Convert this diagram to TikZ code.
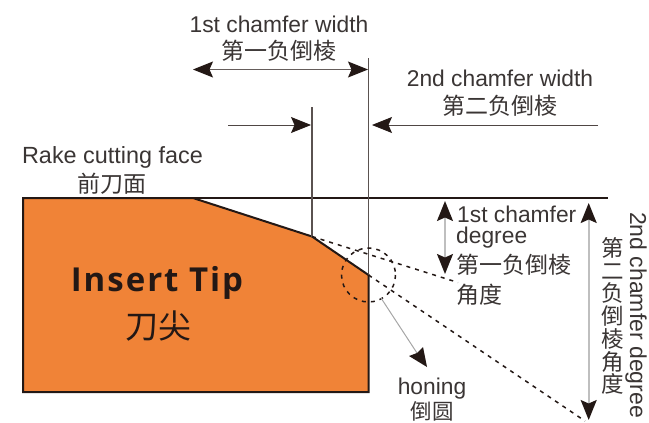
\documentclass[tikz,border=0pt]{standalone}
\usepackage{fontspec}
\setmainfont{Liberation Sans}
\newfontfamily\cjkfont{Noto Sans CJK SC}
\newfontfamily\titlefont[LetterSpace=6]{Open Sans}
\usetikzlibrary{arrows.meta}
\definecolor{inkc}{HTML}{231815}
\definecolor{txtc}{HTML}{3A3534}
\definecolor{orangefill}{HTML}{F08337}
\tikzset{
  lbl/.style={text=txtc,inner sep=0pt,font=\fontsize{22.8}{23}\selectfont},
  cjk/.style={text=txtc,inner sep=0pt,font=\cjkfont\fontsize{23}{23}\selectfont},
  dim/.style={draw=inkc!80,line width=0.9pt,-{Stealth[length=20pt,width=16pt,inset=3.5pt,inkc]}},
  dimboth/.style={draw=inkc!70,line width=1pt,{Stealth[length=20pt,width=16pt,inset=3.5pt,inkc]}-{Stealth[length=20pt,width=16pt,inset=3.5pt,inkc]}},
  greyboth/.style={draw=black!25,line width=1.6pt,{Stealth[length=20pt,width=16pt,inset=3.5pt,inkc]}-{Stealth[length=20pt,width=16pt,inset=3.5pt,inkc]}},
  guide/.style={draw=inkc!75,line width=1.4pt},
  dots/.style={draw=inkc,line width=1.5pt,dash pattern=on 4pt off 5pt},
}
\begin{document}
\begin{tikzpicture}[x=1pt,y=-1pt]
\useasboundingbox (0,0) rectangle (649,423);
\coordinate (tl) at (23,198);
\coordinate (tm) at (193,198);
\coordinate (c1) at (312,236.5);
\coordinate (c2) at (368.5,275);
\coordinate (br) at (368.5,392);
\coordinate (bl) at (23,392);
\coordinate (faceEnd) at (608,198);
\coordinate (v1top) at (312,107);
\coordinate (v2top) at (368.5,58);
\coordinate (w1a) at (193,69.5);
\coordinate (w1b) at (368,69.5);
\coordinate (s1a) at (228,125);
\coordinate (s1b) at (311,125);
\coordinate (s2a) at (598,125);
\coordinate (s2b) at (372,125);
\coordinate (d1end) at (458,282.5);
\coordinate (d2end) at (585,421);
\coordinate (hona) at (381,298);
\coordinate (honn) at (417,353);
\coordinate (honb) at (427,367);
\coordinate (a1a) at (445,201);
\coordinate (a1b) at (445,274);
\coordinate (a2a) at (588.7,203);
\coordinate (a2b) at (588.7,420);

\draw[fill=orangefill,draw=inkc,line width=2pt,line join=miter]
  (tl) -- (tm) -- (c1) -- (c2) -- (br) -- (bl) -- cycle;
\draw[inkc,line width=1.3pt] (tl) -- (faceEnd);
\draw[guide] (v1top) -- (c1);
\draw[guide] (v2top) -- (c2);
\draw[dimboth] (w1a) -- (w1b);
\draw[dim] (s1a) -- (s1b);
\draw[dim] (s2a) -- (s2b);
\draw[dots] (c1) -- (d1end);
\draw[dots] (c2) -- (d2end);
\draw[dots] (c2) circle[radius=27];
\draw[black!35,line width=1pt] (hona) -- (honn);
\fill[inkc] (honb) -- ++(-18,-11) -- (honn) -- ++(6,-6) -- cycle;
\draw[greyboth] (a1a) -- (a1b);
\draw[greyboth] (a2a) -- (a2b);

\node[lbl] (w1en) at (279,24) {1st chamfer width};
\node[cjk] (w1cn) at (279,51) {第一负倒棱};
\node[lbl] (w2en) at (500,78) {2nd chamfer width};
\node[cjk] (w2cn) at (500,106) {第二负倒棱};
\node[lbl,font=\fontsize{23.4}{23}\selectfont] (rakeen) at (112.5,157) {Rake cutting face};
\node[cjk] (rakecn) at (112,184) {前刀面};
\node[text=inkc,inner sep=0pt,font=\titlefont\bfseries\fontsize{33}{33}\selectfont] (tipen) at (157,283) {Insert Tip};
\node[text=inkc,inner sep=0pt,font=\cjkfont\fontsize{33}{33}\selectfont] (tipcn) at (158,326) {刀尖};
\node[lbl,anchor=west] (d1a) at (457,214) {1st chamfer};
\node[lbl,anchor=west] (d1b) at (456,238) {degree};
\node[cjk,anchor=west] (d1c) at (456,265) {第一负倒棱};
\node[cjk,anchor=west] (d1d) at (456,295) {角度};
\node[cjk,align=center,font=\cjkfont\fontsize{22.5}{22.7}\selectfont] (d2cn) at (613,316) {第\\二\\负\\倒\\棱\\角\\度};
\node[lbl,rotate=-90,font=\fontsize{23}{24}\selectfont] (d2en) at (636,315) {2nd chamfer degree};
\node[lbl] (honen) at (432,389) {honing};
\node[cjk,font=\cjkfont\fontsize{21.5}{22}\selectfont] (honcn) at (432,411.5) {倒圆};
\end{tikzpicture}
\end{document}
